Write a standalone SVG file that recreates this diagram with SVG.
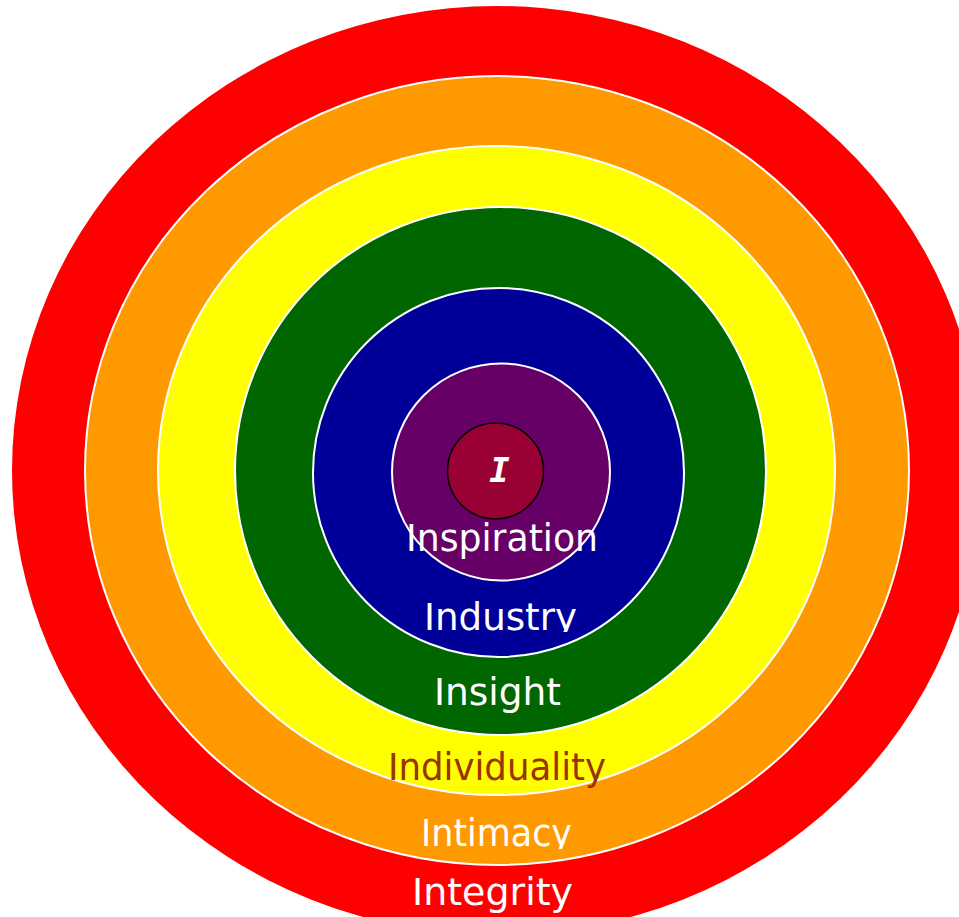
<svg xmlns="http://www.w3.org/2000/svg" width="959" height="917" viewBox="0 0 959 917">
<style>
.ring{stroke:#ffffff;stroke-width:2}
.lbl{font-family:'Comic Sans MS','DejaVu Sans',sans-serif;font-size:37px;fill:#ffffff;text-anchor:middle}
</style>
<defs>
<clipPath id="clipIndustry"><rect x="380" y="590" width="240" height="42"/></clipPath>
<clipPath id="clipIntimacy"><rect x="380" y="805" width="240" height="44"/></clipPath>
</defs>
<rect x="0" y="0" width="959" height="917" fill="#ffffff"/>
<g id="integrity"><ellipse cx="497" cy="470.5" rx="485" ry="464.5" fill="#ff0000"/></g>
<g id="intimacy"><ellipse class="ring" cx="497" cy="470.5" rx="412" ry="394.5" fill="#ff9900"/></g>
<g id="individuality"><ellipse class="ring" cx="496.5" cy="470.5" rx="338.5" ry="324.5" fill="#ffff00"/></g>
<g id="insight"><ellipse class="ring" cx="500.5" cy="471" rx="265.5" ry="264" fill="#006600"/></g>
<g id="industry"><ellipse class="ring" cx="498.5" cy="472.5" rx="185.5" ry="184.5" fill="#000099"/></g>
<g id="inspiration"><ellipse class="ring" cx="501" cy="472" rx="109" ry="108.5" fill="#660066"/></g>
<g id="core"><circle cx="495.5" cy="471" r="48" fill="#990033" stroke="#000000" stroke-width="1.5"/>
<text x="499.5" y="482" font-family="'DejaVu Sans Mono',monospace" font-size="34" font-weight="bold" font-style="italic" fill="#ffffff" text-anchor="middle">I</text></g>
<g id="labels">
<text class="lbl" x="502" y="551" textLength="192" lengthAdjust="spacingAndGlyphs">Inspiration</text>
<text class="lbl" x="500.5" y="630" textLength="153" lengthAdjust="spacingAndGlyphs" clip-path="url(#clipIndustry)">Industry</text>
<text class="lbl" x="497.5" y="705" textLength="127" lengthAdjust="spacingAndGlyphs">Insight</text>
<text class="lbl" x="497" y="780" textLength="218" lengthAdjust="spacingAndGlyphs" style="fill:#993300">Individuality</text>
<text class="lbl" x="496.5" y="846" textLength="151" lengthAdjust="spacingAndGlyphs" clip-path="url(#clipIntimacy)">Intimacy</text>
<text class="lbl" x="492.5" y="905" textLength="161" lengthAdjust="spacingAndGlyphs">Integrity</text>
</g>
</svg>
